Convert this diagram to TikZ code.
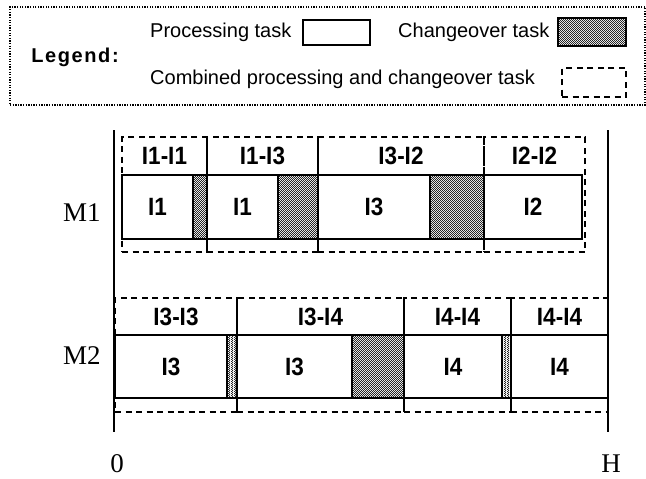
\documentclass[tikz,border=0pt]{standalone}
\usepackage{fontspec}
\setmainfont{Liberation Serif}
\newfontfamily\lsans{Liberation Sans}
\newfontfamily\lsansn[FakeStretch=0.9]{Liberation Sans}
\newfontfamily\lsansls[LetterSpace=8]{Liberation Sans}
\usetikzlibrary{patterns,fit}
\pgfdeclarepatternformonly{chk}{\pgfqpoint{0pt}{0pt}}{\pgfqpoint{2.4pt}{2.4pt}}{\pgfqpoint{2.4pt}{2.4pt}}{%
  \pgfpathrectangle{\pgfqpoint{0pt}{0pt}}{\pgfqpoint{1.2pt}{1.2pt}}%
  \pgfpathrectangle{\pgfqpoint{1.2pt}{1.2pt}}{\pgfqpoint{1.2pt}{1.2pt}}%
  \pgfusepath{fill}}
\begin{document}
\begin{tikzpicture}[x=1pt,y=-1pt,
  box/.style={draw,line width=1.5pt,inner sep=0pt,outer sep=0pt,fill=white},
  chg/.style={draw,line width=1.5pt,inner sep=0pt,outer sep=0pt,pattern=chk,pattern color=black!85},
  grp/.style={draw,line width=1.5pt,dash pattern=on 6pt off 4.5pt,inner sep=0pt,outer sep=0pt},
  lab/.style={font=\lsansn\bfseries\fontsize{25}{25}\selectfont,inner sep=0pt},
  legtxt/.style={font=\lsans\fontsize{20}{20}\selectfont,inner sep=0pt,anchor=west},
  mach/.style={font=\fontsize{27}{27}\selectfont,inner sep=0pt},
  axisline/.style={line width=2pt},
  solidline/.style={line width=1.5pt},
  legbox/.style={draw,line width=1.3pt,dash pattern=on 1.3pt off 1.3pt,inner sep=0pt,outer sep=0pt}
]
\useasboundingbox (0,0) rectangle (646,479);

% Legend
\node[legbox,fit={(10,7)(645,105)}] (legend) {};
\node[font=\lsansls\bfseries\fontsize{20}{20}\selectfont,inner sep=0pt] (lg) at (75,57) {Legend:};
\node[legtxt] (lp) at (150,32) {Processing task};
\node[box,fit={(303,20)(370,45)}] (lpb) {};
\node[legtxt] (lc) at (398,32) {Changeover task};
\node[chg,fit={(558,18)(626,46)}] (lcb) {};
\node[legtxt] (lcm) at (150,79) {Combined processing and changeover task};
\node[grp,fit={(562,68)(626,97)}] (lcmb) {};

% M1 groups
\node[grp,fit={(122,137)(207,252)}] (d11) {};
\node[grp,fit={(207,137)(318,252)}] (d12) {};
\node[grp,fit={(318,137)(484,252)}] (d13) {};
\node[grp,fit={(484,137)(585,252)}] (d14) {};
% M1 tasks
\node[box,fit={(122,175)(193,239)}] (p11) {};
\node[chg,fit={(193,175)(207,239)}] (c11) {};
\node[box,fit={(207,175)(278,239)}] (p12) {};
\node[chg,fit={(278,175)(318,239)}] (c12) {};
\node[box,fit={(318,175)(430,239)}] (p13) {};
\node[chg,fit={(430,175)(484,239)}] (c13) {};
\node[box,fit={(484,175)(582,239)}] (p14) {};
\node[lab] (p11l) at (p11.center) {I1};
\node[lab] (p12l) at (p12.center) {I1};
\node[lab] (p13l) at (p13.center) {I3};
\node[lab] (p14l) at (p14.center) {I2};
% M1 labels
\node[lab] (t11) at (164.5,156) {I1-I1};
\node[lab] (t12) at (262.5,156) {I1-I3};
\node[lab] (t13) at (401,156) {I3-I2};
\node[lab] (t14) at (534.5,156) {I2-I2};

% M2 groups
\node[grp,fit={(115,298)(237,412)}] (g21) {};
\node[grp,fit={(237,298)(404,412)}] (g22) {};
\node[grp,fit={(404,298)(511,412)}] (g23) {};
\node[grp,fit={(511,298)(608,412)}] (g24) {};
% M2 tasks
\node[box,fit={(115,335)(227,398)}] (q21) {};
\node[chg,fit={(227,335)(237,398)}] (e21) {};
\node[box,fit={(237,335)(352,398)}] (q22) {};
\node[chg,fit={(352,335)(404,398)}] (e22) {};
\node[box,fit={(404,335)(502,398)}] (q23) {};
\node[chg,fit={(502,335)(511,398)}] (e23) {};
\node[box,fit={(511,335)(608,398)}] (q24) {};
\node[lab] (q21l) at (q21.center) {I3};
\node[lab] (q22l) at (q22.center) {I3};
\node[lab] (q23l) at (q23.center) {I4};
\node[lab] (q24l) at (q24.center) {I4};
\draw[solidline] (g21.north east) -- (g21.south east);
\draw[solidline] (g23.north east) -- (g23.south east);
% M2 labels
\node[lab] (u21) at (176,317) {I3-I3};
\node[lab] (u22) at (320.5,317) {I3-I4};
\node[lab] (u23) at (457.5,317) {I4-I4};
\node[lab] (u24) at (559.5,317) {I4-I4};

% axes
\coordinate (a0t) at (114,130);
\coordinate (a0b) at (114,432);
\coordinate (aHt) at (608,130);
\coordinate (aHb) at (608,432);
\draw[axisline] (a0t) -- (a0b);
\draw[axisline] (aHt) -- (aHb);

\node[mach] (m1) at (82,213) {M1};
\node[mach] (m2) at (82,356) {M2};
\node[mach] (zero) at (117,464) {0};
\node[mach] (hh) at (611,464) {H};
\end{tikzpicture}
\end{document}
